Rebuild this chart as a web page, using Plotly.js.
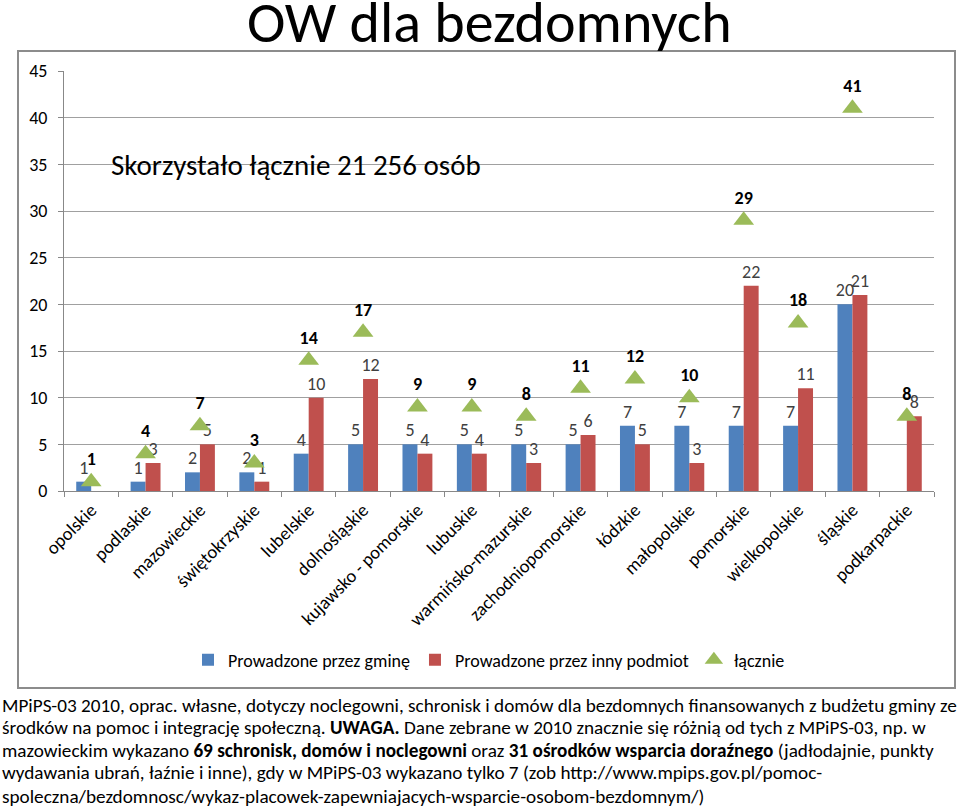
<!DOCTYPE html>
<html>
<head>
<meta charset="utf-8">
<script src="https://cdn.plot.ly/plotly-3.0.1.min.js"></script>
<style>html,body{margin:0;padding:0;background:#fff;}#chart{width:960px;height:812px;}</style>
</head>
<body>
<div id="chart"></div>
<script>
const categories = ["opolskie","podlaskie","mazowieckie","świętokrzyskie","lubelskie","dolnośląskie","kujawsko - pomorskie","lubuskie","warmińsko-mazurskie","zachodniopomorskie","łódzkie","małopolskie","pomorskie","wielkopolskie","śląskie","podkarpackie"];
const gmina = [1,1,2,2,4,5,5,5,5,5,7,7,7,7,20,null];
const innyPodmiot = [null,3,5,1,10,12,4,4,3,6,5,3,22,11,21,8];
const lacznie = [1,4,7,3,14,17,9,9,8,11,12,10,29,18,41,8];
const seriesNames = ["Prowadzone przez gminę","Prowadzone przez inny podmiot","łącznie"];
const yTicks = [0,5,10,15,20,25,30,35,40,45];

const FONT = 'Carlito, Calibri, "Open Sans", sans-serif';
const lab = a => a.map(v => v === null ? "" : String(v));

const traces = [
  {type:'bar', name:seriesNames[0], x:categories, y:gmina, marker:{color:'#4f81bd'},
   text:lab(gmina), textposition:'outside', constraintext:'none', cliponaxis:false,
   textfont:{family:FONT, size:18, color:'#404040'}},
  {type:'bar', name:seriesNames[1], x:categories, y:innyPodmiot, marker:{color:'#c0504d'},
   text:lab(innyPodmiot), textposition:'outside', constraintext:'none', cliponaxis:false,
   textfont:{family:FONT, size:18, color:'#404040'}},
  {type:'scatter', mode:'markers+text', name:seriesNames[2], x:categories, y:lacznie,
   marker:{symbol:'triangle-up', size:18, color:'#9bbb59'},
   text:lacznie.map(v=>'<b>'+v+'</b>'), textposition:'top center', cliponaxis:false,
   textfont:{family:FONT, size:18, color:'#000'}}
];

const PL = 64, PW = 870, PT = 71, PH = 420;
const px = x => (x - PL) / PW;
const py = y => (PT + PH - y) / PH;

const notes = [
  "MPiPS-03 2010, oprac. własne, dotyczy noclegowni, schronisk i domów dla bezdomnych finansowanych z budżetu gminy ze",
  "środków na pomoc i integrację społeczną. <b>UWAGA.</b> Dane zebrane w 2010 znacznie się różnią od tych z MPiPS-03, np. w",
  "mazowieckim wykazano <b>69 schronisk, domów i noclegowni</b> oraz <b>31 ośrodków wsparcia doraźnego</b> (jadłodajnie, punkty",
  "wydawania ubrań, łaźnie i inne), gdy w MPiPS-03 wykazano tylko 7 (zob http://www.mpips.gov.pl/pomoc-",
  "spoleczna/bezdomnosc/wykaz-placowek-zapewniajacych-wsparcie-osobom-bezdomnym/)"
];
const noteY = [705, 727.5, 750.5, 773, 796];

const annotations = [
  {xref:'paper', yref:'paper', x:px(109), y:py(165), xanchor:'left', yanchor:'middle', showarrow:false,
   text:'Skorzystało łącznie 21 256 osób', font:{family:FONT, size:29, color:'#000'}},
  {xref:'paper', yref:'paper', x:px(489), y:py(23), xanchor:'center', yanchor:'middle', showarrow:false,
   text:'OW dla bezdomnych', font:{family:FONT, size:58, color:'#000'}}
];
notes.forEach((t,i)=>annotations.push({xref:'paper', yref:'paper', x:px(0), y:py(noteY[i]), xanchor:'left', yanchor:'middle',
  showarrow:false, align:'left', text:t, font:{family:FONT, size:19.2, color:'#000'}}));

const layout = {
  width:960, height:812, margin:{l:PL, r:960-PL-PW, t:PT, b:812-PT-PH},
  paper_bgcolor:'#fff', plot_bgcolor:'#fff',
  barmode:'group', bargap:0.45, bargroupgap:0,
  showlegend:true,
  legend:{orientation:'h', x:px(489), xanchor:'center', y:py(660), yanchor:'middle',
    font:{family:FONT, size:18, color:'#000'}, traceorder:'normal', itemwidth:30},
  xaxis:{type:'category', tickangle:-45, tickfont:{family:FONT, size:18.5, color:'#000'},
    showline:true, linecolor:'#888', linewidth:1, ticks:'outside', ticklen:5, tickcolor:'#888',
    tickson:'boundaries', showgrid:false, automargin:false, range:[-0.5,15.5]},
  yaxis:{range:[0,45], tickvals:yTicks, ticktext:yTicks.map(String), showgrid:true, gridcolor:'#a0a0a0', gridwidth:1,
    showline:true, linecolor:'#888', ticks:'outside', ticklen:5, tickcolor:'#888', zeroline:false,
    ticklabelstandoff:7, tickfont:{family:FONT, size:18, color:'#000'}, automargin:false},
  shapes:[{type:'rect', xref:'paper', yref:'paper', x0:px(18), x1:px(955), y0:py(688), y1:py(51),
    line:{color:'#8c8c8c', width:2}, fillcolor:'rgba(0,0,0,0)', layer:'below'}],
  annotations:annotations
};

Plotly.newPlot('chart', traces, layout, {displayModeBar:false, staticPlot:true});
</script>
</body>
</html>
